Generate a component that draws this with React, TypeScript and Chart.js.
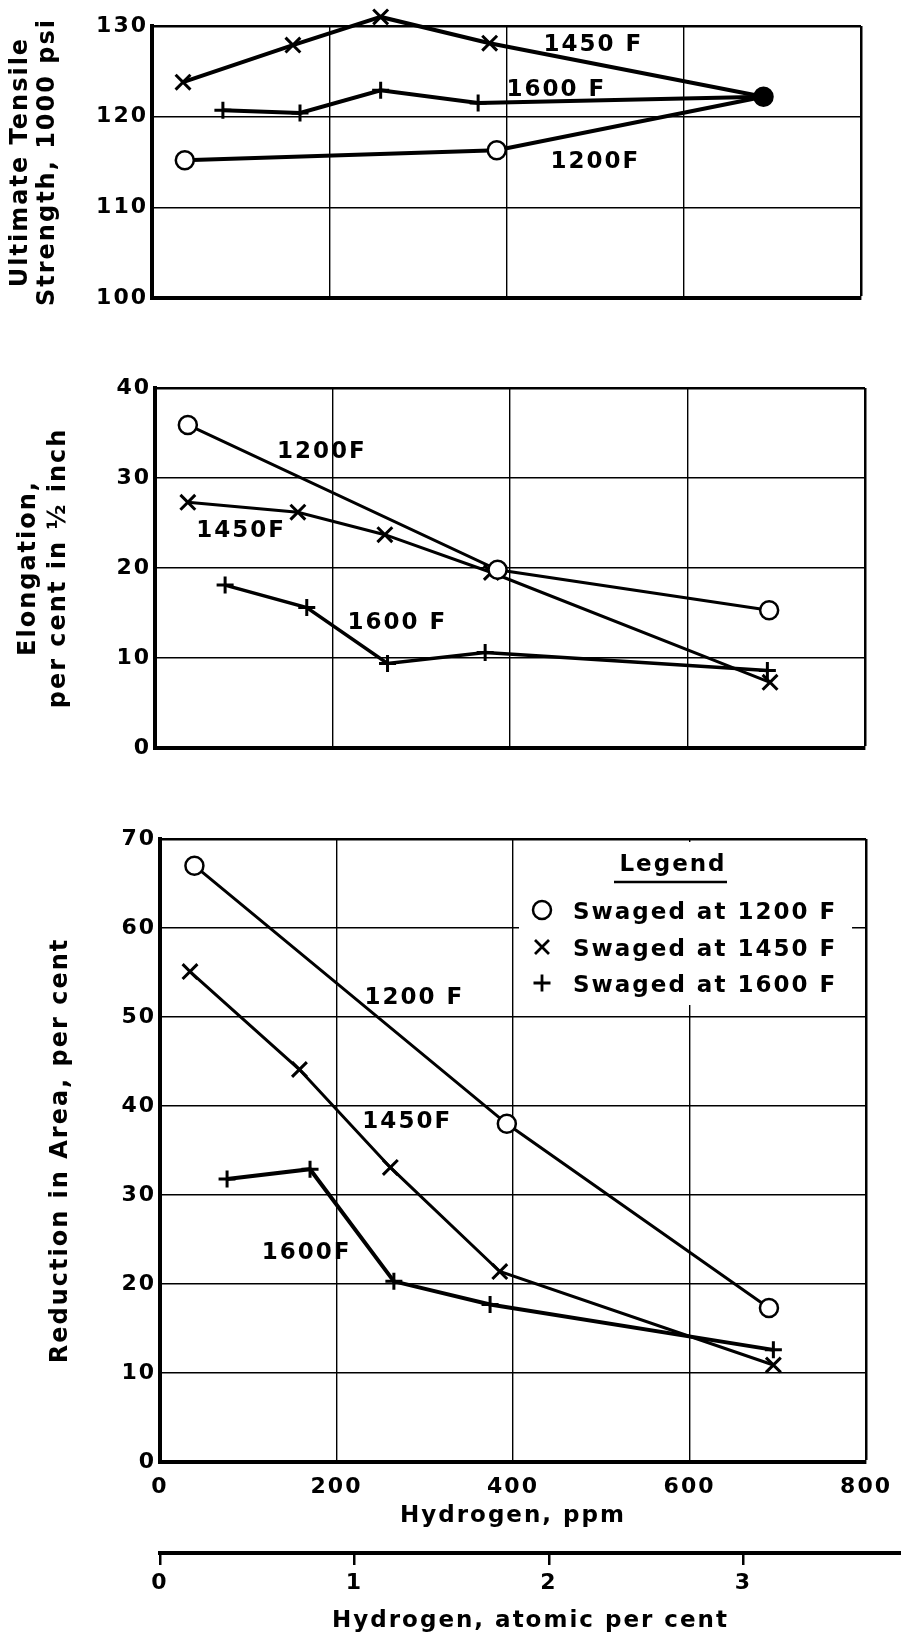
import React, { useEffect, useRef } from 'react';
import { Chart, registerables } from 'chart.js';

Chart.register(...registerables);

// ---------- axis ticks ----------
const ppmTicks = [0, 200, 400, 600, 800];
const atomicTicks = [0, 1, 2, 3];
const utsTicks = [100, 110, 120, 130];
const elongTicks = [0, 10, 20, 30, 40];
const raTicks = [0, 10, 20, 30, 40, 50, 60, 70];

const seriesNames = ['Swaged at 1200 F', 'Swaged at 1450 F', 'Swaged at 1600 F'];

// ---------- Ultimate tensile strength, 1000 psi ----------
const uts1200Ppm = [37, 389, 690];
const uts1200 = [115.2, 116.3, 122.2];
const uts1450Ppm = [35, 159, 258, 381, 690];
const uts1450 = [123.8, 127.9, 131.0, 128.1, 122.2];
const uts1600Ppm = [80, 167, 258, 368, 690];
const uts1600 = [120.7, 120.4, 122.9, 121.5, 122.2];

// ---------- Elongation, per cent in 1/2 inch ----------
const el1200Ppm = [37, 386, 692];
const el1200 = [35.9, 19.8, 15.3];
const el1450Ppm = [37, 161, 259, 379, 693];
const el1450 = [27.3, 26.2, 23.7, 19.5, 7.3];
const el1600Ppm = [79, 171, 262, 372, 690];
const el1600 = [18.1, 15.6, 9.4, 10.6, 8.6];

// ---------- Reduction in area, per cent ----------
const ra1200Ppm = [39, 393, 690];
const ra1200 = [67.0, 38.0, 17.3];
const ra1450Ppm = [34, 158, 261, 385, 695];
const ra1450 = [55.1, 44.1, 33.1, 21.4, 10.9];
const ra1600Ppm = [76, 170, 265, 374, 695];
const ra1600 = [31.8, 32.9, 20.3, 17.7, 12.6];

// ---------- curve labels (anchored in data units) ----------
const utsLabelText = ['1450 F', '1600 F', '1200F'];
const utsLabelPpm = [497, 455, 499];
const utsLabelVal = [128.2, 123.2, 115.3];

const elLabelText = ['1200F', '1450F', '1600 F'];
const elLabelPpm = [187, 96, 272];
const elLabelVal = [33.2, 24.4, 14.2];

const raLabelText = ['1200 F', '1450F', '1600F'];
const raLabelPpm = [287, 279, 165];
const raLabelVal = [52.4, 38.5, 23.8];

const FONT = '"DejaVu Sans", sans-serif';
const WEIGHT = 'bold';
const W = 901;

const pts = (xs: number[], ys: number[]) => xs.map((x, i) => ({ x, y: ys[i] }));

const spacingPlugin = {
  id: 'letterSpacing',
  beforeDraw(chart: any) {
    chart.ctx.letterSpacing = '2px';
  },
};

function notesPlugin(text: string[], ppm: number[], val: number[]) {
  return {
    id: 'curveNotes',
    afterDatasetsDraw(chart: any) {
      const { ctx, scales } = chart;
      ctx.save();
      ctx.font = `${WEIGHT} 23px ${FONT}`;
      ctx.fillStyle = '#000';
      ctx.textAlign = 'center';
      ctx.textBaseline = 'alphabetic';
      text.forEach((t, i) => {
        ctx.fillText(t, scales.x.getPixelForValue(ppm[i]) + 1, scales.y.getPixelForValue(val[i]) + 8.5);
      });
      ctx.restore();
    },
  };
}

function drawMarker(ctx: any, style: string, x: number, y: number) {
  ctx.beginPath();
  if (style === 'circle') {
    ctx.lineWidth = 2.5;
    ctx.arc(x, y, 9, 0, Math.PI * 2);
  } else if (style === 'crossRot') {
    ctx.lineWidth = 2.8;
    ctx.moveTo(x - 7, y - 7);
    ctx.lineTo(x + 7, y + 7);
    ctx.moveTo(x + 7, y - 7);
    ctx.lineTo(x - 7, y + 7);
  } else {
    ctx.lineWidth = 2.8;
    ctx.moveTo(x - 8.5, y);
    ctx.lineTo(x + 8.5, y);
    ctx.moveTo(x, y - 8.5);
    ctx.lineTo(x, y + 8.5);
  }
  ctx.stroke();
}

const legendPlugin = {
  id: 'swagedLegend',
  afterDraw(chart: any) {
    const { ctx, chartArea: a } = chart;
    ctx.save();
    ctx.fillStyle = '#fff';
    ctx.fillRect(a.left + 359, a.top + 3, a.right - 14 - (a.left + 359), 163);
    ctx.fillStyle = '#000';
    ctx.strokeStyle = '#000';
    ctx.font = `${WEIGHT} 23px ${FONT}`;
    ctx.textAlign = 'center';
    ctx.textBaseline = 'alphabetic';
    ctx.fillText('Legend', a.left + 513, a.top + 23 + 8.5);
    ctx.lineWidth = 2.5;
    ctx.beginPath();
    ctx.moveTo(a.left + 454, a.top + 43);
    ctx.lineTo(a.left + 567, a.top + 43);
    ctx.stroke();
    ctx.textAlign = 'left';
    const rows = [71, 108, 144];
    chart.data.datasets.forEach((ds: any, i: number) => {
      const cy = a.top + rows[i];
      drawMarker(ctx, ds.pointStyle, a.left + 382, cy);
      ctx.fillText(ds.label, a.left + 413, cy + 8.5);
    });
    ctx.restore();
  },
};

function makeDatasets(
  x1: number[], y1: number[], x2: number[], y2: number[], x3: number[], y3: number[],
  lw: number, lw3: number, joined: boolean
) {
  const n1 = x1.length, n2 = x2.length, n3 = x3.length;
  return [
    {
      label: seriesNames[0],
      data: pts(x1, y1),
      showLine: true,
      tension: 0,
      borderColor: '#000',
      borderWidth: lw,
      pointStyle: 'circle',
      pointRadius: 9,
      pointBorderWidth: 2.5,
      pointBorderColor: '#000',
      pointBackgroundColor: x1.map((_, i) => (joined && i === n1 - 1 ? '#000' : '#fff')),
      clip: false,
    },
    {
      label: seriesNames[1],
      data: pts(x2, y2),
      showLine: true,
      tension: 0,
      borderColor: '#000',
      borderWidth: lw,
      pointStyle: 'crossRot',
      pointRadius: x2.map((_, i) => (joined && i === n2 - 1 ? 0 : 10.5)),
      pointBorderWidth: 3,
      pointBorderColor: '#000',
      pointBackgroundColor: '#000',
      clip: false,
    },
    {
      label: seriesNames[2],
      data: pts(x3, y3),
      showLine: true,
      tension: 0,
      borderColor: '#000',
      borderWidth: lw3,
      pointStyle: 'cross',
      pointRadius: x3.map((_, i) => (joined && i === n3 - 1 ? 0 : 8.5)),
      pointBorderWidth: 3,
      pointBorderColor: '#000',
      pointBackgroundColor: '#000',
      clip: false,
    },
  ];
}

type Panel = {
  datasets: any[];
  yMin: number;
  yMax: number;
  yTicks: number[];
  yTitle: string | string[];
  titleLH: number;
  titlePad: number;
  H: number;
  L: number;
  R: number;
  T: number;
  B: number;
  showX: boolean;
  plugins: any[];
};

function panelConfig(p: Panel): any {
  return {
    type: 'scatter',
    data: { datasets: p.datasets },
    options: {
      responsive: false,
      animation: false,
      devicePixelRatio: 1,
      layout: { padding: { left: 0, top: p.T, right: W - p.R, bottom: 0 } },
      plugins: { legend: { display: false }, tooltip: { enabled: false } },
      scales: {
        x: {
          type: 'linear',
          min: ppmTicks[0],
          max: ppmTicks[ppmTicks.length - 1],
          afterBuildTicks: (s: any) => {
            s.ticks = ppmTicks.map((v) => ({ value: v }));
          },
          afterFit: (s: any) => {
            s.height = p.H - p.B;
          },
          grid: {
            color: '#000',
            lineWidth: (c: any) => (c.tick && c.tick.value === ppmTicks[ppmTicks.length - 1] ? 2.5 : 1.4),
            drawTicks: false,
          },
          border: { display: true, color: '#000', width: 4 },
          ticks: {
            display: p.showX,
            padding: 12,
            font: { size: 22, family: FONT, weight: WEIGHT },
            color: '#000',
            maxRotation: 0,
          },
          title: {
            display: p.showX,
            text: 'Hydrogen, ppm',
            color: '#000',
            font: { size: 23, family: FONT, weight: WEIGHT },
            padding: { top: 0, bottom: 10 },
          },
        },
        y: {
          type: 'linear',
          min: p.yMin,
          max: p.yMax,
          afterBuildTicks: (s: any) => {
            s.ticks = p.yTicks.map((v) => ({ value: v }));
          },
          afterFit: (s: any) => {
            s.width = p.L;
          },
          grid: {
            color: '#000',
            lineWidth: (c: any) => (c.tick && c.tick.value === p.yMax ? 2.5 : 1.4),
            drawTicks: false,
          },
          border: { display: true, color: '#000', width: 4 },
          ticks: { padding: 4, font: { size: 22, family: FONT, weight: WEIGHT }, color: '#000' },
          title: {
            display: true,
            text: p.yTitle,
            color: '#000',
            font: { size: 24, family: FONT, weight: WEIGHT, lineHeight: p.titleLH },
            padding: { top: p.titlePad, bottom: 0 },
          },
        },
      },
    },
    plugins: [spacingPlugin, ...p.plugins],
  };
}

const atomicConfig: any = {
  type: 'scatter',
  data: { datasets: [] },
  options: {
    responsive: false,
    animation: false,
    devicePixelRatio: 1,
    layout: { padding: { left: 160, right: 0, top: 0, bottom: 0 } },
    plugins: { legend: { display: false }, tooltip: { enabled: false } },
    scales: {
      x: {
        type: 'linear',
        position: 'bottom',
        min: 0,
        max: 3.81,
        afterBuildTicks: (s: any) => {
          s.ticks = atomicTicks.map((v) => ({ value: v }));
        },
        afterFit: (s: any) => {
          s.height = 98 - 13;
        },
        grid: { drawOnChartArea: false, drawTicks: true, tickLength: 12, color: '#000', lineWidth: 2.5 },
        border: { display: true, color: '#000', width: 4 },
        ticks: { padding: 5, font: { size: 22, family: FONT, weight: WEIGHT }, color: '#000', maxRotation: 0 },
        title: {
          display: true,
          text: 'Hydrogen, atomic per cent',
          color: '#000',
          font: { size: 23, family: FONT, weight: WEIGHT },
          padding: { top: 0, bottom: 3 },
        },
      },
      y: { display: false, min: 0, max: 1 },
    },
  },
  plugins: [spacingPlugin],
};

export default function App() {
  const aRef = useRef<HTMLCanvasElement>(null);
  const bRef = useRef<HTMLCanvasElement>(null);
  const cRef = useRef<HTMLCanvasElement>(null);
  const dRef = useRef<HTMLCanvasElement>(null);

  useEffect(() => {
    Chart.defaults.font.family = FONT;
    Chart.defaults.color = '#000';

    const cfgA = panelConfig({
      datasets: makeDatasets(uts1200Ppm, uts1200, uts1450Ppm, uts1450, uts1600Ppm, uts1600, 4, 4, true),
      yMin: 100,
      yMax: 130,
      yTicks: utsTicks,
      yTitle: ['Ultimate Tensile', 'Strength, 1000 psi'],
      titleLH: 1.12,
      titlePad: 7,
      H: 320,
      L: 152,
      R: 861,
      T: 26,
      B: 298,
      showX: false,
      plugins: [notesPlugin(utsLabelText, utsLabelPpm, utsLabelVal)],
    });
    const cfgB = panelConfig({
      datasets: makeDatasets(el1200Ppm, el1200, el1450Ppm, el1450, el1600Ppm, el1600, 3, 3.5, false),
      yMin: 0,
      yMax: 40,
      yTicks: elongTicks,
      yTitle: ['Elongation,', 'per cent in \u00BD inch'],
      titleLH: 1.25,
      titlePad: 14,
      H: 430,
      L: 155,
      R: 865,
      T: 48,
      B: 408,
      showX: false,
      plugins: [notesPlugin(elLabelText, elLabelPpm, elLabelVal)],
    });
    const cfgC = panelConfig({
      datasets: makeDatasets(ra1200Ppm, ra1200, ra1450Ppm, ra1450, ra1600Ppm, ra1600, 3, 4, false),
      yMin: 0,
      yMax: 70,
      yTicks: raTicks,
      yTitle: 'Reduction in Area, per cent',
      titleLH: 1.2,
      titlePad: 46,
      H: 750,
      L: 160,
      R: 872,
      T: 49,
      B: 672,
      showX: true,
      plugins: [notesPlugin(raLabelText, raLabelPpm, raLabelVal), legendPlugin],
    });

    const charts = [
      new Chart(aRef.current as HTMLCanvasElement, cfgA),
      new Chart(bRef.current as HTMLCanvasElement, cfgB),
      new Chart(cRef.current as HTMLCanvasElement, cfgC),
      new Chart(dRef.current as HTMLCanvasElement, atomicConfig),
    ];
    return () => charts.forEach((c) => c.destroy());
  }, []);

  const cv = (top: number, h: number): React.CSSProperties => ({
    position: 'absolute',
    left: 0,
    top,
    width: W,
    height: h,
    display: 'block',
  });

  return (
    <div style={{ position: 'absolute', left: 0, top: 0, width: W, height: 1638, background: '#fff', overflow: 'hidden' }}>
      <canvas ref={aRef} width={W} height={320} style={cv(0, 320)} />
      <canvas ref={bRef} width={W} height={430} style={cv(340, 430)} />
      <canvas ref={cRef} width={W} height={750} style={cv(790, 750)} />
      <canvas ref={dRef} width={W} height={98} style={cv(1540, 98)} />
    </div>
  );
}
